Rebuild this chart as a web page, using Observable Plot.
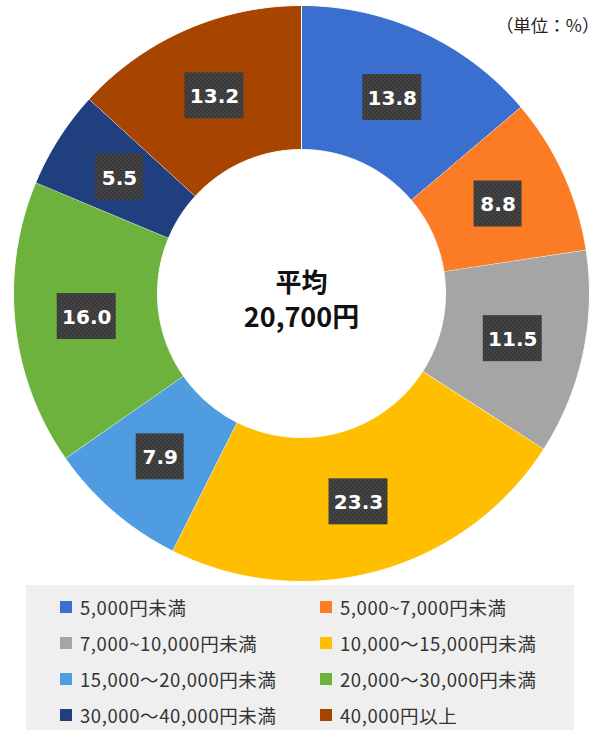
<!DOCTYPE html>
<html>
<head>
<meta charset="utf-8">
<script src="https://cdn.jsdelivr.net/npm/d3@7"></script>
<script src="https://cdn.jsdelivr.net/npm/@observablehq/plot@0.6"></script>
<style>
  html, body { margin: 0; padding: 0; background: #fff; }
  #wrap { position: relative; width: 600px; }
  #legend {
    margin-left: 26px; width: 548px; height: 145px; background: #efefef;
    box-sizing: border-box; padding: 4px 0 0 34px;
    display: grid; grid-template-columns: 260px 254px; grid-auto-rows: 36px;
    font-family: "Noto Sans CJK JP", sans-serif; font-size: 18.5px; color: #333;
    letter-spacing: 0.6px;
  }
  #legend .item { display: flex; align-items: center; white-space: nowrap; }
  #legend .sw { width: 12px; height: 12.5px; margin-right: 8px; flex: none; }
</style>
</head>
<body>
<svg width="0" height="0" style="position:absolute">
  <defs>
    <pattern id="chk" width="4" height="4" patternUnits="userSpaceOnUse">
      <rect width="4" height="4" fill="#393939"></rect>
      <rect width="2" height="2" fill="#444444"></rect>
      <rect x="2" y="2" width="2" height="2" fill="#444444"></rect>
    </pattern>
    <filter id="sh" x="-30%" y="-30%" width="170%" height="170%">
      <feDropShadow dx="2.5" dy="3" stdDeviation="2" flood-color="#000" flood-opacity="0.45"></feDropShadow>
    </filter>
  </defs>
</svg>
<div id="wrap"><div id="chart"></div><div id="legend"></div></div>
<script>
// ---- data ----
const categories = ["5,000円未満", "5,000~7,000円未満", "7,000~10,000円未満", "10,000～15,000円未満",
                    "15,000～20,000円未満", "20,000～30,000円未満", "30,000～40,000円未満", "40,000円以上"];
const values = [13.8, 8.8, 11.5, 23.3, 7.9, 16.0, 5.5, 13.2];
const colors = ["#3b6fcf", "#fb7c24", "#a5a5a5", "#ffbf00", "#4f9de0", "#6cb23d", "#1f3f7e", "#a74400"];
const unitLabel = "（単位：%）";
const centerTitle = "平均";
const centerValue = "20,700円";

// ---- geometry from data ----
const innerRatio = 0.5;
const labelRadius = 0.75;
const pxPerUnit = 288;
const total = d3.sum(values);
let cum = 0;
const slices = values.map((v, i) => {
  const a0 = cum / total * 2 * Math.PI;
  cum += v;
  const a1 = cum / total * 2 * Math.PI;
  return {cat: categories[i], v, a0, a1};
});
const pts = [];
for (const s of slices) {
  const n = Math.max(2, Math.ceil((s.a1 - s.a0) / (Math.PI / 360)));
  const outer = [], inner = [];
  for (let j = 0; j <= n; j++) {
    const t = s.a0 + (s.a1 - s.a0) * j / n;
    outer.push({cat: s.cat, x: Math.sin(t), y: Math.cos(t)});
    inner.push({cat: s.cat, x: innerRatio * Math.sin(t), y: innerRatio * Math.cos(t)});
  }
  pts.push(...outer, ...inner.reverse());
}
const labels = slices.map(s => {
  const m = (s.a0 + s.a1) / 2;
  const label = s.v.toFixed(1);
  const w = (11 * label.length + 15) / 2 / pxPerUnit;
  const h = 23 / pxPerUnit;
  const x = labelRadius * Math.sin(m), y = labelRadius * Math.cos(m);
  return {label, x, y, x1: x - w, x2: x + w, y1: y - h, y2: y + h};
});

const chart = Plot.plot({
  width: 600, height: 585,
  marginLeft: 13, marginRight: 11, marginTop: 5, marginBottom: 4,
  x: {domain: [-1, 1], axis: null},
  y: {domain: [-1, 1], axis: null},
  color: {domain: categories, range: colors},
  style: {background: "transparent"},
  marks: [
    Plot.line(pts, {x: "x", y: "y", z: "cat", fill: "cat", stroke: "white", strokeWidth: 1, curve: "linear"}),
    Plot.rect(labels, {x1: "x1", x2: "x2", y1: "y1", y2: "y2", fill: "url(#chk)", ariaLabel: "label-box"}),
    Plot.text(labels, {x: "x", y: "y", text: "label", fill: "white", fontSize: 20, fontWeight: "bold",
                       fontFamily: "DejaVu Sans", dy: 1}),
    Plot.text([centerTitle], {frameAnchor: "middle", dy: -10, fontSize: 26, fontWeight: "bold",
                              fontFamily: "Noto Sans CJK JP", fill: "#111"}),
    Plot.text([centerValue], {frameAnchor: "middle", dy: 25, fontSize: 27, fontWeight: "bold",
                              fontFamily: "Noto Sans CJK JP", fill: "#111"}),
    Plot.text([unitLabel], {frameAnchor: "top-right", dx: 10, dy: 14, textAnchor: "end", fontSize: 17.5,
                            fontFamily: "Noto Sans CJK JP", fill: "#222"})
  ]
});
chart.querySelectorAll('g[aria-label="label-box"]').forEach(g => g.setAttribute("filter", "url(#sh)"));
document.getElementById("chart").appendChild(chart);

const legend = document.getElementById("legend");
categories.forEach((c, i) => {
  const item = document.createElement("div");
  item.className = "item";
  const sw = document.createElement("span");
  sw.className = "sw";
  sw.style.background = colors[i];
  const tx = document.createElement("span");
  tx.textContent = c;
  item.appendChild(sw); item.appendChild(tx);
  legend.appendChild(item);
});
</script>
</body>
</html>
